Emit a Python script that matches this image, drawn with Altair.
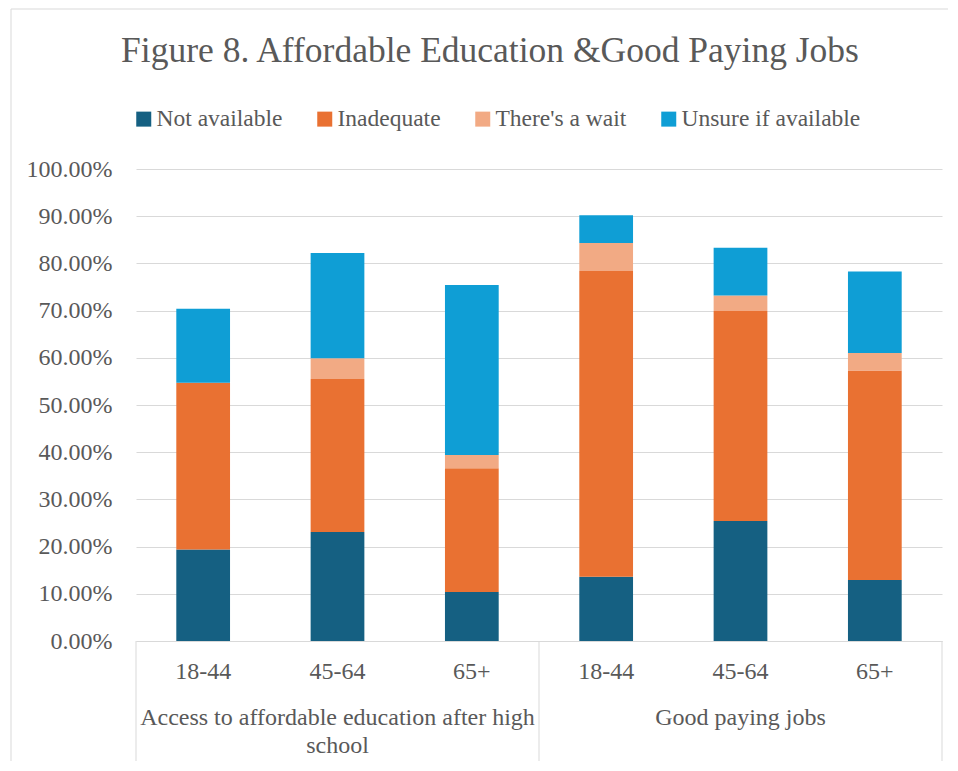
import altair as alt
import pandas as pd

# ---- data ----
groups = ["Access to affordable education after high school"] * 3 + ["Good paying jobs"] * 3
ages = ["18-44", "45-64", "65+", "18-44", "45-64", "65+"]
series = ["Not available", "Inadequate", "There's a wait", "Unsure if available"]
not_available = [19.4, 23.1, 10.4, 13.6, 25.4, 12.9]
inadequate = [35.3, 32.4, 26.2, 64.8, 44.5, 44.4]
theres_a_wait = [0.0, 4.4, 2.8, 5.9, 3.3, 3.7]
unsure = [15.7, 22.3, 36.0, 5.9, 10.1, 17.3]
group_labels = ["Access to affordable education after high\nschool", "Good paying jobs"]
colors = ["#156082", "#E97132", "#F2AA84", "#0F9ED5"]

TEXT = "#595959"
FONT = "Liberation Serif"
W, H = 806, 472

rows = []
values = [not_available, inadequate, theres_a_wait, unsure]
for i in range(6):
    key = f"{i}|{ages[i]}"
    for s_idx, s in enumerate(series):
        rows.append({"key": key, "series": s, "order": s_idx, "value": values[s_idx][i] / 100})
df = pd.DataFrame(rows)
keys = [f"{i}|{ages[i]}" for i in range(6)]

gdf = pd.DataFrame({"key": [keys[1], keys[4]], "label": group_labels})

xscale = alt.Scale(domain=keys, paddingInner=0.6, paddingOuter=0.3)

bars = alt.Chart(df).mark_bar().encode(
    x=alt.X("key:N", scale=xscale, sort=keys, title=None,
            axis=alt.Axis(labelExpr="split(datum.label, '|')[1]", labelAngle=0,
                          labelFontSize=24, labelColor=TEXT, labelFont=FONT,
                          labelPadding=18, ticks=False, domainColor="#D9D9D9",
                          domainWidth=1)),
    y=alt.Y("value:Q", stack="zero", scale=alt.Scale(domain=[0, 1]), title=None,
            axis=alt.Axis(format=".2%", values=[i / 10 for i in range(11)],
                          labelFontSize=24, labelColor=TEXT, labelFont=FONT,
                          labelPadding=24, ticks=False, domain=False,
                          gridColor="#D9D9D9", gridWidth=1)),
    color=alt.Color("series:N", scale=alt.Scale(domain=series, range=colors),
                    legend=alt.Legend(title=None, orient="none", direction="horizontal",
                                      legendX=-4, legendY=-62, symbolType="square",
                                      symbolSize=225, symbolStrokeWidth=0,
                                      labelFontSize=23.5, labelFont=FONT, labelColor=TEXT,
                                      labelOffset=1, labelLimit=400, columnPadding=30)),
    order=alt.Order("order:Q", sort="ascending"),
)

glabels = alt.Chart(gdf).mark_text(
    fontSize=24, font=FONT, color=TEXT, baseline="top", align="center",
    lineBreak="\n", lineHeight=28,
).encode(
    x=alt.X("key:N", scale=xscale, sort=keys),
    y=alt.value(H + 65),
    text="label:N",
)

dividers = alt.Chart(pd.DataFrame({"d": [0]})).mark_rule(color="#D9D9D9", strokeWidth=1)
div_left = dividers.encode(x=alt.value(0), y=alt.value(H), y2=alt.value(H + 122))
div_mid = dividers.encode(x=alt.value(W / 2), y=alt.value(H), y2=alt.value(H + 122))
div_right = dividers.encode(x=alt.value(W), y=alt.value(H), y2=alt.value(H + 122))

border_left = dividers.encode(x=alt.value(-125), y=alt.value(-160), y2=alt.value(H + 140))
border_top = dividers.encode(x=alt.value(-125), x2=alt.value(W + 30), y=alt.value(-160))

chart = alt.layer(
    bars, glabels, div_left, div_mid, div_right, border_left, border_top
).properties(
    width=W, height=H,
    title=alt.TitleParams("Figure 8. Affordable Education &Good Paying Jobs",
                          fontSize=35.5, font=FONT, color=TEXT, fontWeight="normal",
                          anchor="middle", dx=-49, dy=65),
    autosize=alt.AutoSizeParams(type="none"),
    padding={"left": 128, "top": 161, "right": 6, "bottom": 120},
).configure(font=FONT, view=alt.ViewConfig(stroke=None))

chart.save("out.html", embed_options={"renderer": "svg", "actions": False})
